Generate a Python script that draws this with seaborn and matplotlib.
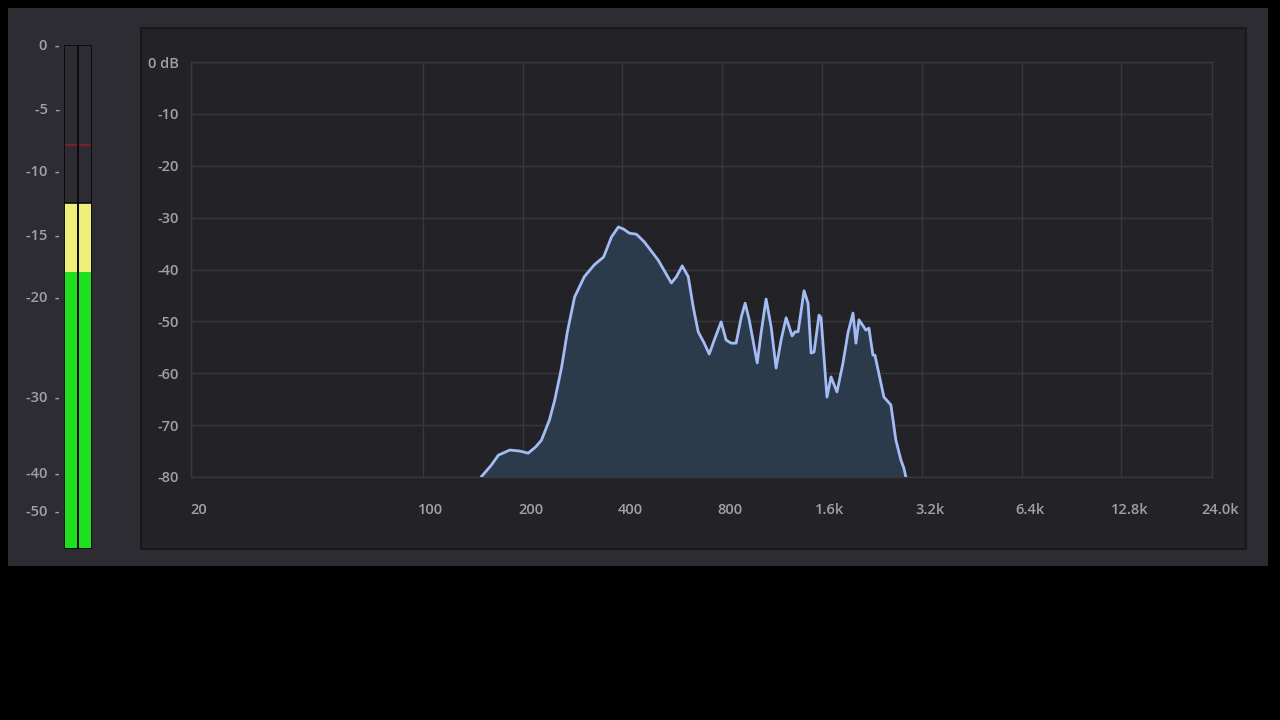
import numpy as np
import matplotlib
matplotlib.use("Agg")
import matplotlib.pyplot as plt
import matplotlib.transforms as mtransforms
from matplotlib.patches import Rectangle
import seaborn as sns

# ---------------- data ----------------
freq_hz = [150, 161, 169, 183, 196, 208, 219, 228, 241, 250, 262, 273, 287, 307, 329, 351,
           371, 389, 403, 420, 441, 466, 513, 562, 582, 606, 632, 654, 677, 706, 731, 757,
           794, 822, 851, 881, 913, 938, 965, 1020, 1048, 1085, 1124, 1163, 1204, 1247,
           1300, 1327, 1355, 1412, 1452, 1483, 1514, 1567, 1589, 1656, 1703, 1775, 1851,
           1916, 1984, 2025, 2068, 2171, 2216, 2278, 2310, 2459, 2581, 2672, 2766, 2825, 2864]
level_db = [-80.0, -77.7, -75.8, -74.8, -75.0, -75.4, -74.2, -72.9, -69.0, -65.2, -59.0, -52.0,
            -45.3, -41.4, -39.1, -37.6, -33.7, -31.8, -32.2, -33.0, -33.2, -34.7, -38.2, -42.6,
            -41.4, -39.3, -41.4, -47.2, -52.0, -54.2, -56.3, -53.6, -50.1, -53.6, -54.2, -54.2,
            -49.2, -46.5, -49.7, -58.0, -52.2, -45.7, -51.1, -59.0, -53.6, -49.3, -52.8, -52.0,
            -52.0, -44.1, -46.5, -56.1, -55.9, -48.8, -49.3, -64.6, -60.7, -63.6, -58.0, -52.2,
            -48.4, -54.2, -49.7, -51.7, -51.3, -56.5, -56.5, -64.6, -66.1, -72.9, -76.7, -78.3, -80.0]

x_ticks = [20, 100, 200, 400, 800, 1600, 3200, 6400, 12800, 24000]
x_tick_labels = ["20", "100", "200", "400", "800", "1.6k", "3.2k", "6.4k", "12.8k", "24.0k"]
y_ticks = [0, -10, -20, -30, -40, -50, -60, -70, -80]
y_tick_labels = ["0 dB", "-10", "-20", "-30", "-40", "-50", "-60", "-70", "-80"]

meter_channels = ["L", "R"]
meter_level_db = [-12.5, -12.5]
meter_yellow_from_db = -18.0
meter_peak_db = [-7.9, -7.9]
meter_ticks = [0, -5, -10, -15, -20, -30, -40, -50]
meter_tick_labels = ["0", "-5", "-10", "-15", "-20", "-30", "-40", "-50"]
# meter scale definition (dB -> relative meter position)
meter_scale_db = [-60, -50, -40, -30, -20, -15, -10, -5, 0]
meter_scale_pos = [0, 38, 76, 152, 252, 315, 378, 440, 504]

# ---------------- style ----------------
BG = "#000000"
PANEL = "#2c2c32"
INNER = "#232327"
GRID = "#38383e"
TEXT = "#a0a0a6"
LINE = "#a4bcf4"
FILL = "#2c3b4c"

sns.set_theme(style="dark")
plt.rcParams["font.family"] = ["Open Sans", "DejaVu Sans"]
plt.rcParams["axes.unicode_minus"] = False

fig = plt.figure(figsize=(12.8, 7.2), dpi=100, facecolor=BG)

def px_rect(x0, y0, x1, y1, **kw):
    return Rectangle((x0 / 1280, 1 - y1 / 720), (x1 - x0) / 1280, (y1 - y0) / 720,
                     transform=fig.transFigure, **kw)

fig.patches.append(px_rect(8, 8, 1268, 566, facecolor=PANEL, edgecolor="none", zorder=-10))
fig.patches.append(px_rect(141, 28, 1246, 549, facecolor=INNER, edgecolor="#16161a",
                           linewidth=1.2, zorder=-9))

# ---------------- spectrum ----------------
ax = fig.add_axes([191 / 1280, 1 - 477 / 720, 1021 / 1280, 415 / 720])
ax.set_facecolor(INNER)
ax.set_xscale("log")
ax.set_xlim(20, 24000)
ax.set_ylim(-80, 0)

ax.fill_between(freq_hz, level_db, -80, color=FILL, linewidth=0, zorder=2)
sns.lineplot(x=freq_hz, y=level_db, ax=ax, sort=False, color=LINE, linewidth=2.0,
             zorder=3, estimator=None)
ax.lines[-1].set_solid_joinstyle("round")
ax.lines[-1].set_solid_capstyle("round")

ax.set_xticks(x_ticks)
ax.set_xticklabels(x_tick_labels)
ax.xaxis.set_minor_locator(matplotlib.ticker.NullLocator())
ax.set_yticks(y_ticks)
ax.set_yticklabels(y_tick_labels)
ax.grid(True, color=GRID, linewidth=1.0, zorder=1)
ax.set_axisbelow(True)
for s in ax.spines.values():
    s.set_color(GRID)
    s.set_linewidth(1.0)
ax.tick_params(axis="both", length=0, colors=TEXT, labelsize=10.5)
ax.tick_params(axis="x", pad=19)
ax.tick_params(axis="y", pad=9)
offset = mtransforms.ScaledTranslation(8 / 100, 0, fig.dpi_scale_trans)
for lab in ax.get_xticklabels():
    lab.set_transform(lab.get_transform() + offset)
for lab in ax.get_xticklabels() + ax.get_yticklabels():
    lab.set_fontweight("semibold")
ax.set_xlabel("")
ax.set_ylabel("")

# ---------------- level meter ----------------
fwd = lambda v: np.interp(v, meter_scale_db, meter_scale_pos)
inv = lambda p: np.interp(p, meter_scale_pos, meter_scale_db)

mx = fig.add_axes([64 / 1280, 1 - 549 / 720, 28 / 1280, 504 / 720])
mx.set_yscale("function", functions=(fwd, inv))
mx.set_ylim(-60, 0)
mx.set_xlim(-0.5, 1.5)
mx.set_facecolor(PANEL)
xs = np.arange(len(meter_channels))
mx.bar(xs, [0 - (-60)] * 2, bottom=-60, width=1.0, color=PANEL, edgecolor="#0c0c0e",
       linewidth=1.2, zorder=1)
mx.bar(xs, [meter_yellow_from_db - (-60)] * 2, bottom=-60, width=1.0, color="#1ee01e",
       edgecolor="none", zorder=2)
mx.bar(xs, [lv - meter_yellow_from_db for lv in meter_level_db], bottom=meter_yellow_from_db,
       width=1.0, color="#eef07a", edgecolor="none", zorder=2)
mx.bar(xs, [lv - (-60) for lv in meter_level_db], bottom=-60, width=1.0, color="none",
       edgecolor="#0c0c0e", linewidth=1.2, zorder=3)
for i, pk in enumerate(meter_peak_db):
    mx.hlines(pk, i - 0.45, i + 0.45, color="#8a1c2a", linewidth=1.3, zorder=4)
mx.bar(xs, [0 - (-60)] * 2, bottom=-60, width=1.0, color="none", edgecolor="#0c0c0e",
       linewidth=1.2, zorder=5)
mx.set_xticks([])
mx.set_yticks(meter_ticks)
mx.set_yticklabels([f"{t}  -" for t in meter_tick_labels])
mx.yaxis.set_minor_locator(matplotlib.ticker.NullLocator())
mx.tick_params(axis="y", length=0, pad=3, colors=TEXT, labelsize=10.5)
for lab in mx.get_yticklabels():
    lab.set_fontweight("semibold")
mx.grid(False)
for s in mx.spines.values():
    s.set_visible(False)

fig.savefig("out.png", dpi=100, facecolor=BG)
